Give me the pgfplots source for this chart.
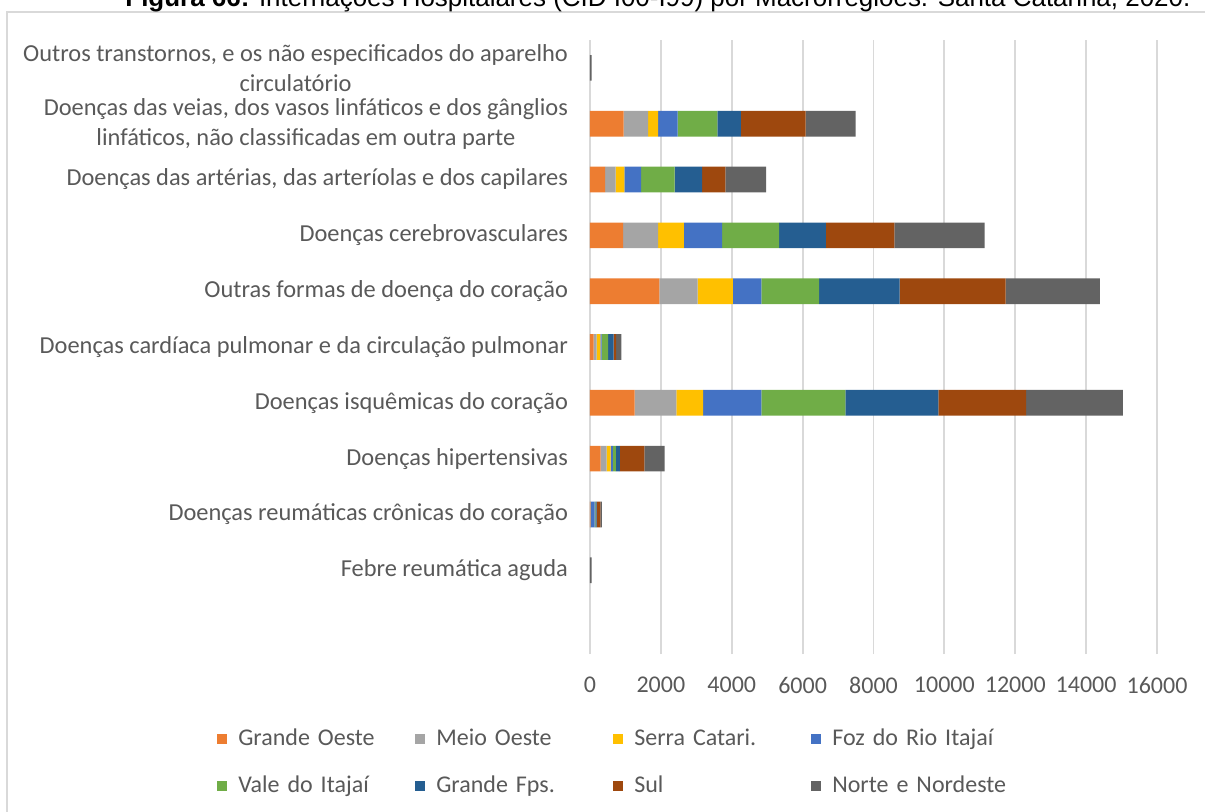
\documentclass[border=0pt]{standalone}
\usepackage{fontspec}
\setmainfont{Carlito}
\newfontfamily\arialf{Liberation Sans}
\usepackage{graphicx}
\usepackage{pgfplots}
\pgfplotsset{compat=1.18}

\definecolor{cGO}{HTML}{ED7D31}
\definecolor{cMO}{HTML}{A5A5A5}
\definecolor{cSC}{HTML}{FFC000}
\definecolor{cFR}{HTML}{4472C4}
\definecolor{cVI}{HTML}{70AD47}
\definecolor{cGF}{HTML}{255E91}
\definecolor{cSU}{HTML}{9E480E}
\definecolor{cNN}{HTML}{636363}
\definecolor{gridc}{HTML}{D9D9D9}
\definecolor{txt}{HTML}{595959}

\begin{document}
\begin{tikzpicture}
\useasboundingbox (0,0) rectangle (602.5pt,-406pt);
\clip (0,0) rectangle (602.5pt,-406pt);
\draw[gridc, line width=1pt] (3.5pt,-6pt) rectangle (620pt,-420pt);
\node[anchor=base west, inner sep=0pt] at (62.5pt,-3.25pt)
  {\resizebox{532.5pt}{!}{\arialf\fontsize{12pt}{14pt}\selectfont\textbf{Figura 66:} Internações Hospitalares (CID I00-I99) por Macrorregiões. Santa Catarina, 2020.}};

\begin{axis}[
  at={(295pt,-327pt)}, anchor=south west,
  scale only axis, width=283.5pt, height=307pt,
  xbar stacked, bar width=0.46,
  xmin=0, xmax=16000, ymin=-0.5, ymax=10.5,
  xtick={0,2000,...,16000}, scaled x ticks=false,
  ytick={1,...,10},
  yticklabels={
    Febre reumática aguda,
    Doenças reumáticas crônicas do coração,
    Doenças hipertensivas,
    Doenças isquêmicas do coração,
    Doenças cardíaca pulmonar e da circulação pulmonar,
    Outras formas de doença do coração,
    Doenças cerebrovasculares,
    {Doenças das artérias, das arteríolas e dos capilares},
    {Doenças das veias, dos vasos linfáticos e dos gânglios\\linfáticos, não classificadas em outra parte},
    {Outros transtornos, e os não especificados do aparelho\\circulatório}},
  /pgf/number format/assume math mode=true,
  /pgf/number format/1000 sep={},
  xticklabel style={font=\fontsize{12pt}{14pt}\selectfont, text=txt, yshift=-8pt},
  yticklabel style={font=\fontsize{12.2pt}{15pt}\selectfont, text=txt, align=center, xshift=-7.5pt},
  xmajorgrids, major grid style={gridc, line width=0.9pt},
  axis line style={draw=none}, major tick length=0pt,
  legend columns=4,
  legend image code/.code={\fill[#1] (0pt,-2.5pt) rectangle (5pt,2.5pt); \path (10.5pt,0pt);},
  legend style={at={(-0.658,-0.119)}, anchor=north west, draw=none, inner sep=0pt,
    font=\fontsize{12pt}{14pt}\selectfont, text=txt, row sep=11.5pt,
    nodes={inner sep=0pt, text width=88.5pt, align=left, text height=9pt, text depth=3pt}},
]
\addplot[fill=cGO, draw=none] coordinates {(0,1) (10,2) (300,3) (1262,4) (100,5) (1955,6) (938,7) (424,8) (948,9) (0,10)};
\addlegendentry{Grande Oeste}
\addplot[fill=cMO, draw=none] coordinates {(0,1) (5,2) (170,3) (1173,4) (90,5) (1083,6) (983,7) (302,8) (695,9) (0,10)};
\addlegendentry{Meio Oeste}
\addplot[fill=cSC, draw=none] coordinates {(0,1) (5,2) (112,3) (760,4) (100,5) (994,6) (726,7) (246,8) (282,9) (0,10)};
\addlegendentry{Serra Catari.}
\addplot[fill=cFR, draw=none] coordinates {(0,1) (110,2) (66,3) (1642,4) (40,5) (805,6) (1084,7) (469,8) (545,9) (0,10)};
\addlegendentry{Foz do Rio Itajaí}
\addplot[fill=cVI, draw=none] coordinates {(0,1) (20,2) (84,3) (2368,4) (180,5) (1631,6) (1608,7) (950,8) (1126,9) (0,10)};
\addlegendentry{Vale do Itajaí}
\addplot[fill=cGF, draw=none] coordinates {(0,1) (40,2) (113,3) (2625,4) (160,5) (2267,6) (1318,7) (770,8) (658,9) (0,10)};
\addlegendentry{Grande Fps.}
\addplot[fill=cSU, draw=none] coordinates {(0,1) (100,2) (686,3) (2479,4) (70,5) (2994,6) (1933,7) (659,8) (1831,9) (0,10)};
\addlegendentry{Sul}
\addplot[fill=cNN, draw=none] coordinates {(45,1) (45,2) (572,3) (2726,4) (145,5) (2658,6) (2547,7) (1151,8) (1408,9) (45,10)};
\addlegendentry{Norte e Nordeste}
\end{axis}
\end{tikzpicture}
\end{document}
